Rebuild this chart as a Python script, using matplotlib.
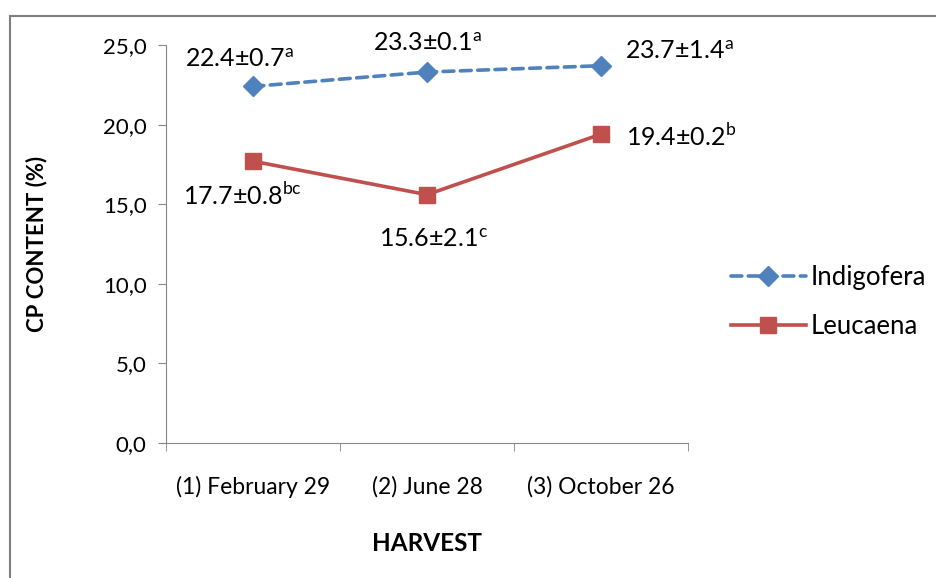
import matplotlib.pyplot as plt
from matplotlib.patches import Rectangle

harvests = ['(1) February 29', '(2) June 28', '(3) October 26']
indigofera = [22.4, 23.3, 23.7]
indigofera_sd = ['0.7', '0.1', '1.4']
indigofera_sig = ['a', 'a', 'a']
leucaena = [17.7, 15.6, 19.4]
leucaena_sd = ['0.8', '2.1', '0.2']
leucaena_sig = ['bc', 'c', 'b']
y_ticks = [0, 5, 10, 15, 20, 25]

BLUE = '#4F81BD'
RED = '#C0504D'
GREY = '#868686'
FONT = ['Lato', 'DejaVu Sans']

plt.rcParams['mathtext.fontset'] = 'custom'
plt.rcParams['mathtext.rm'] = 'Lato'


def label(v, sd, sig):
    return f'{v:.1f}±{sd}$^{{\\rm {sig}}}$'


def main():
    fig = plt.figure(figsize=(9.37, 5.78), dpi=100)
    fig.patches.append(Rectangle((10 / 937, -0.1), 1.2, 1.1 - 16 / 578, transform=fig.transFigure,
                                 fill=False, edgecolor='#7F7F7F', linewidth=1.5))
    ax = fig.add_axes([166 / 937, 135 / 578, 522 / 937, 398 / 578])

    x = list(range(len(harvests)))
    ax.plot(x, indigofera, color=BLUE, lw=2.6, dashes=(3.0, 1.8), dash_capstyle='round',
            marker='D', markersize=10, label='Indigofera')
    ax.plot(x, leucaena, color=RED, lw=2.6, marker='s', markersize=12, label='Leucaena')

    ax.set_xlim(-0.5, 2.5)
    ax.set_ylim(0, 25)
    ax.set_yticks(y_ticks)
    ax.set_yticklabels([f'{t:.1f}'.replace('.', ',') for t in y_ticks], family=FONT, fontsize=16)
    ax.set_xticks(x)
    ax.set_xticklabels(harvests, family=FONT, fontsize=16.5)
    ax.set_xticks([-0.5, 0.5, 1.5, 2.5], minor=True)
    ax.tick_params(axis='x', which='major', length=0, pad=24)
    ax.tick_params(axis='x', which='minor', length=6, color=GREY)
    ax.tick_params(axis='y', length=6, color=GREY, pad=8)
    for s in ['top', 'right']:
        ax.spines[s].set_visible(False)
    for s in ['left', 'bottom']:
        ax.spines[s].set_color(GREY)

    ax.set_ylabel('CP CONTENT (%)', family=FONT, fontsize=16, fontweight='bold', labelpad=40)
    ax.set_xlabel('HARVEST', family=FONT, fontsize=17.5, fontweight='bold', labelpad=24)

    ind_off = [(-14, 27, 'center'), (0, 29, 'center'), (24, 14, 'left')]
    leu_off = [(-11, -34, 'center'), (6, -45, 'center'), (25, -2, 'left')]
    for i in x:
        dx, dy, ha = ind_off[i]
        ax.annotate(label(indigofera[i], indigofera_sd[i], indigofera_sig[i]), (i, indigofera[i]),
                    xytext=(dx, dy), textcoords='offset pixels', ha=ha, va='center',
                    family=FONT, fontsize=18, annotation_clip=False)
        dx, dy, ha = leu_off[i]
        ax.annotate(label(leucaena[i], leucaena_sd[i], leucaena_sig[i]), (i, leucaena[i]),
                    xytext=(dx, dy), textcoords='offset pixels', ha=ha, va='center',
                    family=FONT, fontsize=18, annotation_clip=False)

    ax.legend(loc='center left', bbox_to_anchor=(708 / 937, 1 - 302 / 578), bbox_transform=fig.transFigure,
              frameon=False, handlelength=2.9, labelspacing=0.9, handletextpad=0.2,
              prop={'family': FONT, 'size': 18.5})

    fig.savefig('out.png', dpi=100)


if __name__ == '__main__':
    main()
